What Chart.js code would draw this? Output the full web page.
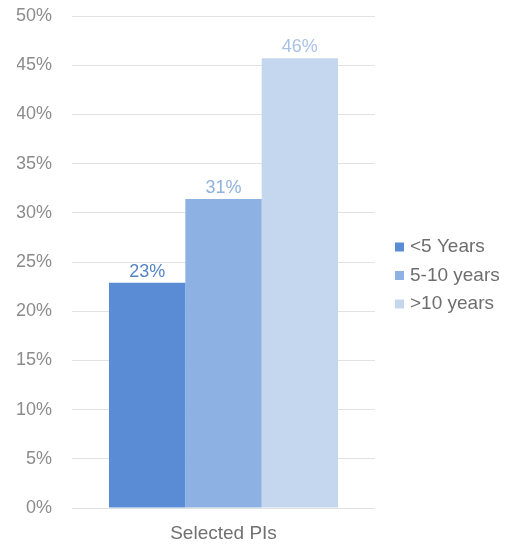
<!DOCTYPE html>
<html>
<head>
<meta charset="utf-8">
<script src="https://cdn.jsdelivr.net/npm/chart.js@4"></script>
<style>
  html, body { margin: 0; padding: 0; background: #fff; }
</style>
</head>
<body>
<canvas id="barChart" width="508" height="544"></canvas>
<script>
// share of PIs by years of experience
const categories = ["Selected PIs"];
const seriesNames = ["<5 Years", "5-10 years", ">10 years"];
const seriesValues = [[22.9], [31.4], [45.7]];
const yTicks = [0, 5, 10, 15, 20, 25, 30, 35, 40, 45, 50];

const barColors = ["#5a8bd5", "#8db1e2", "#c5d7ee"];
const labelColors = ["#5584c4", "#90b1de", "#a8c2e5"];
const FONT = "Arial, 'Liberation Sans', sans-serif";

// value labels above each bar
const valueLabels = {
  id: "valueLabels",
  afterDatasetsDraw(chart) {
    const ctx = chart.ctx;
    ctx.save();
    ctx.font = "18px " + FONT;
    ctx.textAlign = "center";
    ctx.textBaseline = "alphabetic";
    chart.data.datasets.forEach((ds, i) => {
      chart.getDatasetMeta(i).data.forEach((bar, j) => {
        ctx.fillStyle = labelColors[i];
        ctx.fillText(Math.round(ds.data[j]) + "%", bar.x, bar.y - 6);
      });
    });
    ctx.restore();
  }
};

// legend to the right of the plot, small square swatches
const sideLegend = {
  id: "sideLegend",
  afterDraw(chart) {
    const ctx = chart.ctx;
    const x = chart.chartArea.right + 20;
    let y = 247;
    ctx.save();
    ctx.font = "19px " + FONT;
    ctx.textAlign = "left";
    ctx.textBaseline = "middle";
    chart.data.datasets.forEach((ds) => {
      ctx.fillStyle = ds.backgroundColor;
      ctx.fillRect(x, y - 4.5, 9, 9);
      ctx.fillStyle = "#6e6e6e";
      ctx.fillText(ds.label, x + 15, y);
      y += 28.5;
    });
    ctx.restore();
  }
};

new Chart(document.getElementById("barChart").getContext("2d"), {
  type: "bar",
  data: {
    labels: categories,
    datasets: seriesNames.map((name, i) => ({
      label: name,
      data: seriesValues[i],
      backgroundColor: barColors[i],
      borderWidth: 0,
      categoryPercentage: 0.756,
      barPercentage: 1.0
    }))
  },
  options: {
    responsive: false,
    animation: false,
    layout: { padding: { left: 17, top: 16, bottom: 0, right: 133 } },
    plugins: {
      tooltip: { enabled: false },
      legend: { display: false }
    },
    scales: {
      x: {
        grid: { display: false, drawTicks: false },
        border: { display: false },
        afterFit: (scale) => { scale.height = 36; },
        ticks: {
          color: "#707070",
          padding: 14,
          font: { family: FONT, size: 19 }
        }
      },
      y: {
        min: 0,
        max: 50,
        afterBuildTicks: (scale) => { scale.ticks = yTicks.map(v => ({ value: v })); },
        afterFit: (scale) => {
          scale.width = 55;
          scale.paddingTop = 0;
          scale.paddingBottom = 0;
        },
        grid: { color: "#e2e2e2", lineWidth: 1, drawTicks: false },
        border: { display: false },
        ticks: {
          color: "#8c8c8c",
          padding: 20,
          font: { family: FONT, size: 18 },
          callback: (v) => v + "%"
        }
      }
    }
  },
  plugins: [valueLabels, sideLegend]
});
</script>
</body>
</html>
